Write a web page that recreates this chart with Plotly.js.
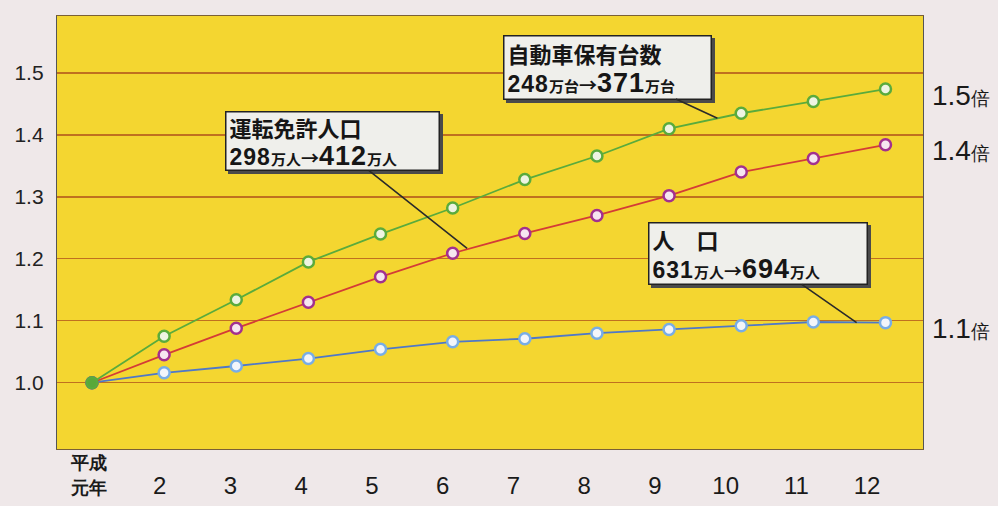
<!DOCTYPE html>
<html>
<head>
<meta charset="utf-8">
<script src="https://cdn.plot.ly/plotly-3.0.1.min.js"></script>
<style>
html,body{margin:0;padding:0;background:#efe8e9;}
#chart{width:998px;height:506px;}
</style>
</head>
<body>
<div id="chart"></div>
<script>
// ---- data ----
const years = [1,2,3,4,5,6,7,8,9,10,11,12];
const yearLabels = ["平成元年","2","3","4","5","6","7","8","9","10","11","12"];
const carOwners      = [1.000,1.075,1.134,1.195,1.240,1.282,1.328,1.366,1.410,1.435,1.454,1.474];
const licenseHolders = [1.000,1.045,1.088,1.130,1.171,1.209,1.241,1.270,1.302,1.340,1.362,1.384];
const population     = [1.000,1.016,1.027,1.039,1.054,1.066,1.071,1.080,1.086,1.092,1.098,1.097];
const yTicks = [1.0,1.1,1.2,1.3,1.4,1.5];
const calloutTitles = ["自動車保有台数","運転免許人口","人　口"];
const calloutFrom = [248,298,631];
const calloutTo = [371,412,694];
const calloutUnits = ["万台","万人","万人"];
const ratioSuffix = "倍";

// ---- styling ----
const JP = '"Noto Sans CJK JP", "Noto Sans", sans-serif';
const NUM = '"Liberation Sans", Arial, sans-serif';

const tickText = yearLabels.map((s, i) => i === 0
  ? '<span style="font-size:18px;font-weight:bold">' + s.slice(0,2) + '</span><br><span style="font-size:18px;font-weight:bold">' + s.slice(2) + '</span>'
  : '\u00a0<br><span style="font-size:24px">' + s + '</span>');

const traces = [
  {
    x: years, y: population, type: 'scatter', mode: 'lines+markers', hoverinfo: 'skip',
    line: {color: '#4f78c8', width: 1.8},
    marker: {size: 11, color: '#f3f5fa', line: {color: '#78ade6', width: 2.5}}
  },
  {
    x: years, y: licenseHolders, type: 'scatter', mode: 'lines+markers', hoverinfo: 'skip',
    line: {color: '#d43c36', width: 1.8},
    marker: {size: 11, color: '#f6e6f0', line: {color: '#a2308f', width: 2.5}}
  },
  {
    x: years, y: carOwners, type: 'scatter', mode: 'lines+markers', hoverinfo: 'skip',
    line: {color: '#5aab3c', width: 1.8},
    marker: {size: 11, color: years.map((v, i) => i === 0 ? '#58a83a' : '#eef4e2'),
             line: {color: '#5aab3c', width: 2.5}}
  },
  { x: [], y: [], xaxis: 'x2', yaxis: 'y', type: 'scatter', hoverinfo: 'skip', showlegend: false }
];

function calloutText(i) {
  const n = 'font-family:Liberation Sans, Arial, sans-serif;font-weight:bold;letter-spacing:1px;';
  return calloutTitles[i] + '<br>' +
    '<span style="' + n + 'font-size:23px">' + calloutFrom[i] + '</span>' +
    '<span style="font-size:15px;font-weight:bold">' + calloutUnits[i] + '</span>' +
    '<span style="font-size:18px">→</span>' +
    '<span style="' + n + 'font-size:27px">' + calloutTo[i] + '</span>' +
    '<span style="font-size:15px;font-weight:bold">' + calloutUnits[i] + '</span>';
}

// callout geometry (layout only): tip on the line + box offset in px
const calloutGeo = [
  {tx: 9.67, ty: 1.427, ax: -110, ay: -51, w: 200, h: 56},
  {tx: 6.20, ty: 1.217, ax: -135, ay: -107, w: 206, h: 51},
  {tx: 11.60, ty: 1.097, ax: -99, ay: -69, w: 211, h: 54}
];

const annotations = [];
calloutGeo.forEach((g, i) => {
  const base = {
    x: g.tx, y: g.ty, xref: 'x', yref: 'y', ax: g.ax, ay: g.ay,
    align: 'left', valign: 'middle',
    width: g.w, height: g.h, borderpad: 3, borderwidth: 1.5,
    font: {family: JP, size: 22, color: '#161616', weight: 'bold'},
    showarrow: true, arrowhead: 0, standoff: 0
  };
  annotations.push(Object.assign({}, base, {
    text: '\u00a0', xshift: 3, yshift: -3, bgcolor: '#4a4a4a', bordercolor: '#4a4a4a',
    arrowcolor: 'rgba(0,0,0,0)', arrowwidth: 1
  }));
  annotations.push(Object.assign({}, base, {
    text: calloutText(i),
    bgcolor: '#efefeb', bordercolor: '#222', arrowcolor: '#2a2a2a', arrowwidth: 1.6
  }));
});

// ratio labels to the right of the plot
const seriesEnds = [carOwners[carOwners.length-1], licenseHolders[licenseHolders.length-1], population[population.length-1]];
seriesEnds.forEach((v, i) => {
  annotations.push({
    xref: 'paper', yref: 'y', x: 1, y: v, xanchor: 'left', yanchor: 'middle', xshift: 7, yshift: -6,
    showarrow: false,
    text: (calloutTo[i] / calloutFrom[i]).toFixed(1) + '<span style="font-size:19px">' + ratioSuffix + '</span>',
    font: {family: NUM, size: 28, color: '#1a1a1a'}
  });
});

const layout = {
  width: 998, height: 506,
  margin: {l: 57, r: 75, t: 16, b: 57, pad: 0},
  paper_bgcolor: '#efe8e9',
  plot_bgcolor: '#f4d630',
  showlegend: false,
  hovermode: false,
  xaxis: {
    range: [0.515, 12.52], showticklabels: false, showgrid: false, zeroline: false,
    showline: true, linecolor: '#7a6036', linewidth: 1.2, mirror: true, ticks: ''
  },
  xaxis2: {
    overlaying: 'x', anchor: 'y', side: 'bottom',
    range: [0.547, 12.79], tickvals: years, ticktext: tickText,
    showgrid: false, zeroline: false, showline: false, ticks: '',
    tickfont: {family: NUM, size: 19, color: '#1a1a1a'}, ticklabelstandoff: 0
  },
  yaxis: {
    range: [0.893, 1.592], tickvals: yTicks, ticktext: yTicks.map(v => v.toFixed(1)),
    showgrid: true, gridcolor: '#c0701f', gridwidth: 1.3, zeroline: false,
    showline: true, linecolor: '#555', linewidth: 1.2, mirror: true, ticks: '',
    tickfont: {family: NUM, size: 21, color: '#222'}, ticklabelstandoff: 8
  },
  annotations: annotations
};

Plotly.newPlot('chart', traces, layout, {staticPlot: true, displayModeBar: false});
</script>
</body>
</html>
